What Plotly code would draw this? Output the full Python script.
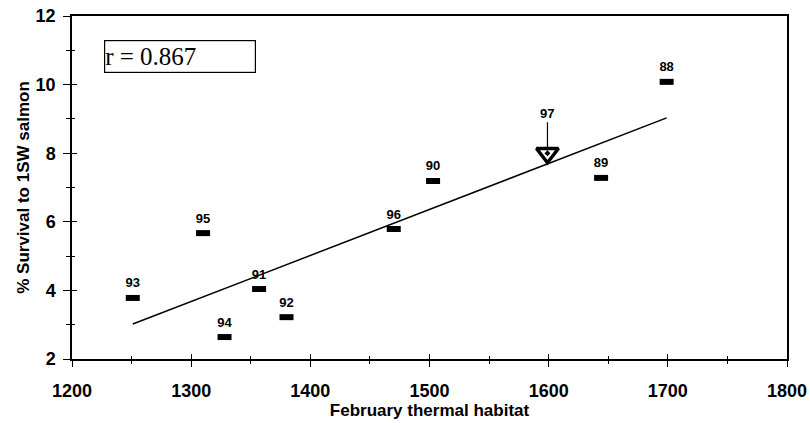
import plotly.graph_objects as go

# ---- data ----
years = ["88", "89", "90", "91", "92", "93", "94", "95", "96"]
habitat = [1699, 1644, 1503, 1357, 1380, 1251, 1328, 1310, 1470]
survival = [10.08, 7.28, 7.19, 4.04, 3.22, 3.78, 2.64, 5.67, 5.79]

pred_year = "97"
pred_habitat = [1599]
pred_survival = [8.0]

fit_x = [1251, 1699]
fit_y = [3.02, 9.03]

r_text = "r = 0.867"
x_title = "February thermal habitat"
y_title = "% Survival to 1SW salmon"
x_ticks = [1200, 1300, 1400, 1500, 1600, 1700, 1800]
y_ticks = [2, 4, 6, 8, 10, 12]

SANS = "Liberation Sans, Arial"
AX_FONT = dict(family=SANS, size=18, color="black", weight=700)

fig = go.Figure()

fig.add_trace(go.Scatter(
    x=fit_x, y=fit_y, mode="lines",
    line=dict(color="black", width=1.5), hoverinfo="skip", showlegend=False))

fig.add_trace(go.Scatter(
    x=habitat, y=survival, mode="markers+text",
    text=years, textposition="top center",
    textfont=dict(family=SANS, size=13, color="black", weight=700),
    marker=dict(symbol="line-ew", size=10, line=dict(color="black", width=6)),
    showlegend=False))

fig.add_trace(go.Scatter(
    x=pred_habitat, y=pred_survival, mode="markers",
    marker=dict(symbol="triangle-down-dot", size=19, color="white",
                line=dict(color="black", width=3.5)),
    showlegend=False))

# overlay axes carrying the inward half of the crossing ticks
fig.add_trace(go.Scatter(x=[None], y=[None], xaxis="x2", yaxis="y2",
                         showlegend=False, hoverinfo="skip"))

fig.add_annotation(
    x=pred_habitat[0], y=pred_survival[0], text=pred_year,
    showarrow=True, arrowhead=0, arrowwidth=1.2, arrowcolor="black",
    ax=0, ay=-40, standoff=5,
    font=dict(family=SANS, size=13, color="black", weight=700))

fig.add_annotation(
    x=0.0448, y=0.93, xref="paper", yref="paper",
    xanchor="left", yanchor="top", text=r_text, showarrow=False,
    align="left", width=150, height=31, borderpad=0,
    bordercolor="black", borderwidth=1.2, bgcolor="white",
    font=dict(family="Liberation Serif, Times New Roman", size=25, color="black"))

common_x = dict(range=[1200, 1800], tickvals=x_ticks, showgrid=False, zeroline=False,
                automargin=False)
common_y = dict(range=[2, 12], tickvals=y_ticks, showgrid=False, zeroline=False,
                automargin=False)

fig.update_layout(
    width=810, height=423,
    margin=dict(l=72, r=23, t=16, b=64, autoexpand=False),
    paper_bgcolor="white", plot_bgcolor="white",
    showlegend=False,
    xaxis=dict(**common_x, showline=True, linecolor="black", linewidth=1.5,
               mirror=True, ticks="outside", ticklen=6, tickwidth=1.2, tickcolor="black",
               minor=dict(dtick=50, ticks="outside", ticklen=3, tickwidth=1, tickcolor="black"),
               tickfont=AX_FONT, ticklabelstandoff=9,
               title=dict(text=x_title, standoff=0,
                          font=dict(family=SANS, size=17, color="black", weight=700))),
    yaxis=dict(**common_y, showline=True, linecolor="black", linewidth=1.5,
               mirror=True, ticks="outside", ticklen=7, tickwidth=1.2, tickcolor="black",
               minor=dict(dtick=1, ticks="outside", ticklen=4, tickwidth=1, tickcolor="black"),
               tickfont=AX_FONT, ticklabelstandoff=4,
               title=dict(text=y_title, standoff=2,
                          font=dict(family=SANS, size=17, color="black", weight=700))),
    xaxis2=dict(**common_x, overlaying="x", matches="x", anchor="y2", side="bottom",
                showline=False, showticklabels=False, ticks="inside", ticklen=5,
                tickwidth=1.2, tickcolor="black",
                minor=dict(dtick=50, ticks="inside", ticklen=3, tickwidth=1, tickcolor="black")),
    yaxis2=dict(**common_y, overlaying="y", matches="y", anchor="x2", side="left",
                showline=False, showticklabels=False, ticks="inside", ticklen=5,
                tickwidth=1.2, tickcolor="black",
                minor=dict(dtick=1, ticks="inside", ticklen=3, tickwidth=1, tickcolor="black")),
)

fig.write_html("out.html")
